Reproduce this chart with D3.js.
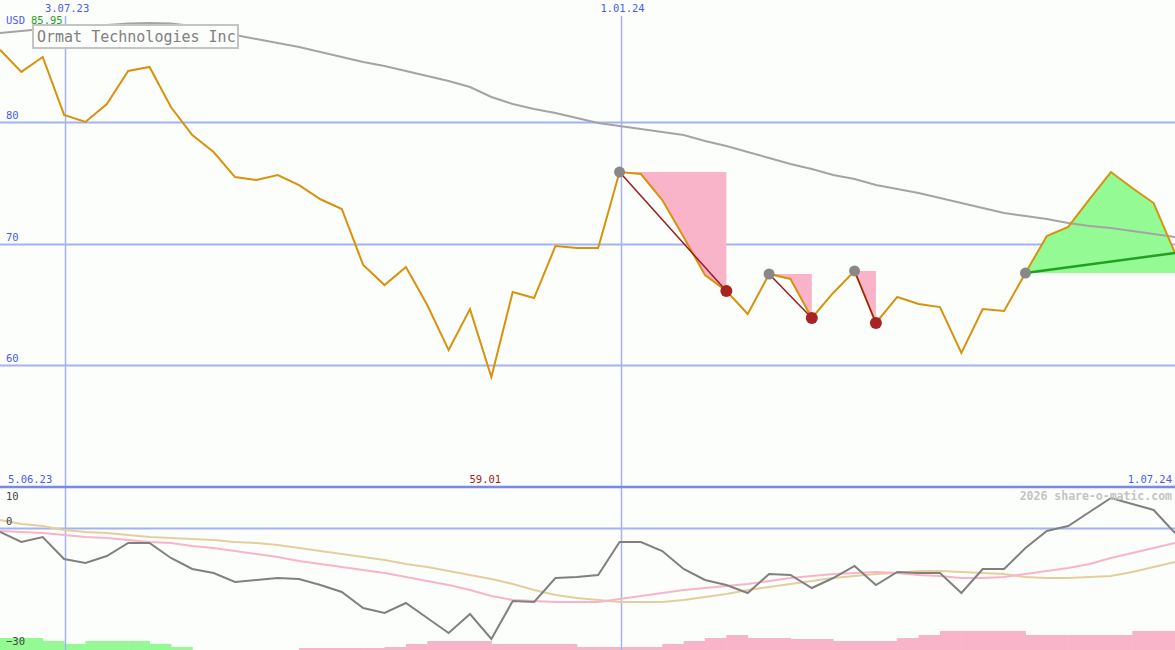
<!DOCTYPE html>
<html><head><meta charset="utf-8">
<script src="https://cdn.jsdelivr.net/npm/d3@7"></script>
<style>html,body{margin:0;padding:0;background:#fcfefc;}svg{display:block;}</style>
</head><body>
<svg id="c" width="1175" height="650"></svg>
<script>
// ---- data ----
const startDate = "2023-06-12";   // first weekly point
const price = [85.95,84.12,85.35,80.58,80.0,81.48,84.2,84.53,81.23,78.93,77.53,75.47,75.23,75.64,74.81,73.64,72.84,68.23,66.58,68.07,64.94,61.23,64.6,59.01,66.0,65.51,69.79,69.63,69.63,75.88,75.72,73.58,70.53,67.41,66.09,64.2,67.49,67.08,63.87,65.93,67.74,63.46,65.6,65.02,64.77,60.99,64.6,64.44,67.57,70.62,71.36,73.66,75.88,74.57,73.33,69.22];
const maLong = [87.33,87.49,87.65,87.82,87.9,87.98,88.11,88.15,88.11,87.9,87.57,87.16,86.83,86.5,86.17,85.76,85.35,84.94,84.61,84.2,83.79,83.37,82.88,82.06,81.48,81.07,80.74,80.33,79.92,79.67,79.42,79.18,78.93,78.44,78.02,77.53,77.04,76.54,76.13,75.64,75.31,74.81,74.49,74.16,73.74,73.33,72.92,72.51,72.26,72.02,71.69,71.44,71.28,71.03,70.78,70.53];
const osc = [-1,-3.5,-2.25,-7.75,-8.75,-7,-3.75,-3.75,-7.5,-10.25,-11.25,-13.5,-13,-12.5,-12.75,-14.25,-16,-20,-21.25,-18.75,-22.5,-26.25,-21.5,-27.75,-18.25,-18.5,-12.5,-12.25,-11.75,-3.5,-3.5,-5.75,-10.25,-13,-14.25,-16.25,-11.5,-11.75,-15,-12.5,-9.5,-14.25,-11,-11.25,-11.25,-16.25,-10.25,-10.25,-5,-0.75,0.5,4,7.5,6,4.5,-1.25];
const oscPink = [-0.75,-1,-1.25,-1.75,-2.25,-2.5,-3,-3.5,-3.75,-4.5,-5,-5.75,-6.5,-7.25,-8.25,-9,-9.75,-10.5,-11.25,-12.25,-13.25,-14.25,-15.5,-17,-18,-18.25,-18.5,-18.5,-18.5,-17.75,-17,-16.25,-15.5,-15,-14.5,-14,-13.25,-12.5,-12,-11.5,-11.25,-11,-11.25,-11.75,-12,-12.5,-12.5,-12.25,-11.5,-10.75,-10,-9,-7.5,-6.25,-5,-3.75];
const oscTan = [2,1,0.5,-0.5,-1,-1.25,-1.75,-2.25,-2.5,-2.75,-3,-3.5,-3.75,-4.25,-5,-5.75,-6.5,-7.25,-8,-9,-9.75,-10.75,-11.75,-12.75,-14,-15.5,-16.75,-17.5,-18,-18.5,-18.5,-18.5,-18,-17.25,-16.5,-15.5,-14.75,-14,-13.25,-12.5,-12,-11.5,-11.25,-10.75,-10.75,-11,-11.25,-11.5,-12.25,-12.5,-12.5,-12.25,-12,-11,-9.75,-8.5];
// step bars per weekly interval: positive = green, negative = pink
const bars = [12,12,9,6,9,9,9,6,3,0,0,0,0,0,-2,-2,-2,-2,-3,-6,-9,-9,-9,-6,-6,-6,-6,-3,-3,-3,-3,-6,-9,-12,-15,-12,-12,-11,-11,-9,-9,-9,-12,-15,-19,-19,-19,-19,-15,-15,-15,-15,-15,-19,-19];
const sigStart = [29,36,40,48];
const sigEnd = [34,38,41,55];
const sigType = ["down","down","down","up"];
const priceTicks = [80,70,60];
const oscTickLabels = [10,0,-30];
const dateTicks = ["2023-07-03","2024-01-01"];
const dateTickLabels = ["3.07.23","1.01.24"];
const rangeLabels = ["5.06.23","1.07.24"];
const title = "Ormat Technologies Inc";
const currency = "USD";
const maxLabel = "85.95";
const minLabel = "59.01";
const watermark = "2026 share-o-matic.com";

// ---- scales ----
const W = 1175;
const day = 864e5;
const t0 = new Date(startDate + "T00:00:00Z");
const dates = price.map((_, i) => new Date(t0.getTime() + i * 7 * day));
const x = d3.scaleUtc().domain([dates[0], dates[dates.length - 1]]).range([0, W]);
const y = d3.scaleLinear().domain([50, 90]).range([486.5, 0.5]);
const yo = d3.scaleLinear().domain([10, -30]).range([488, 648]);
const yb = d3.scaleLinear().domain([0, 20]).range([650, 630]);

const svg = d3.select("#c");
const font = "'DejaVu Sans Mono', monospace";
const gridC = "#a4b2f2", labC = "#4a5cf0";

// background
svg.append("rect").attr("width", W).attr("height", 650).attr("fill", "#fcfefc");

// bars
const bw = x(dates[1]) - x(dates[0]);
svg.append("g").selectAll("rect").data(bars).join("rect")
  .attr("x", (d, i) => x(dates[i]))
  .attr("width", (d, i) => x(dates[i + 1]) - x(dates[i]) + 0.5)
  .attr("y", d => yb(Math.abs(d)))
  .attr("height", d => 650 - yb(Math.abs(d)))
  .attr("fill", d => d >= 0 ? "#94fa94" : "#f9b4c9");

// price grid
svg.append("g").selectAll("line").data(priceTicks).join("line")
  .attr("x1", 0).attr("x2", W).attr("y1", d => Math.round(y(d)) + 0.5).attr("y2", d => Math.round(y(d)) + 0.5)
  .attr("stroke", gridC).attr("stroke-width", 2);
svg.append("g").selectAll("text").data(priceTicks).join("text")
  .attr("x", 6).attr("y", d => y(d) - 3).text(d => d)
  .attr("font-family", font).attr("font-size", 10.5).attr("fill", labC);

// osc zero line
svg.append("line").attr("x1", 0).attr("x2", W).attr("y1", Math.round(yo(0)) + 0.5).attr("y2", Math.round(yo(0)) + 0.5)
  .attr("stroke", gridC).attr("stroke-width", 2);

// vertical date lines
svg.append("g").selectAll("line").data(dateTicks).join("line")
  .attr("x1", d => Math.round(x(new Date(d + "T00:00:00Z"))) + 1.5)
  .attr("x2", d => Math.round(x(new Date(d + "T00:00:00Z"))) + 1.5)
  .attr("y1", 16).attr("y2", 650).attr("stroke", gridC).attr("stroke-width", 1.5);
svg.append("g").selectAll("text").data(dateTicks).join("text")
  .attr("x", d => x(new Date(d + "T00:00:00Z")) + 3)
  .attr("y", 12).attr("text-anchor", "middle")
  .text((d, i) => dateTickLabels[i])
  .attr("font-family", font).attr("font-size", 10.5).attr("fill", labC);

// separator
svg.append("line").attr("x1", 0).attr("x2", W).attr("y1", 487).attr("y2", 487)
  .attr("stroke", "#7a88ec").attr("stroke-width", 2.5);

// signal fills
const px = i => x(dates[i]), py = i => y(price[i]);
sigStart.forEach((s, k) => {
  const e = sigEnd[k];
  const pts = d3.range(s, e + 1).map(i => [px(i), py(i)]);
  pts.push([px(e), py(s)]);
  svg.append("path").attr("d", d3.line()(pts) + "Z")
    .attr("fill", sigType[k] === "up" ? "#94fa94" : "#f9b4c9");
});

// long MA
svg.append("path").datum(maLong)
  .attr("d", d3.line().x((d, i) => x(dates[i])).y(d => y(d)))
  .attr("fill", "none").attr("stroke", "#a4a4a4").attr("stroke-width", 2);

// price line
svg.append("path").datum(price)
  .attr("d", d3.line().x((d, i) => x(dates[i])).y(d => y(d)))
  .attr("fill", "none").attr("stroke", "#d8920c").attr("stroke-width", 2);

// signal lines and dots
sigStart.forEach((s, k) => {
  const e = sigEnd[k];
  const up = sigType[k] === "up";
  svg.append("line").attr("x1", px(s)).attr("y1", py(s)).attr("x2", px(e)).attr("y2", py(e))
    .attr("stroke", up ? "#22a022" : "#9a1c1c").attr("stroke-width", up ? 2.5 : 1.5);
  svg.append("circle").attr("cx", px(s)).attr("cy", py(s)).attr("r", 5.5).attr("fill", "#888888");
  if (!up) svg.append("circle").attr("cx", px(e)).attr("cy", py(e)).attr("r", 6).attr("fill", "#a82222");
});

// oscillator lines
const lo = d3.line().x((d, i) => x(dates[i])).y(d => yo(d));
svg.append("path").datum(oscTan).attr("d", lo).attr("fill", "none").attr("stroke", "#e4cf9c").attr("stroke-width", 2);
svg.append("path").datum(oscPink).attr("d", lo).attr("fill", "none").attr("stroke", "#f9b4c9").attr("stroke-width", 2);
svg.append("path").datum(osc).attr("d", lo).attr("fill", "none").attr("stroke", "#808080").attr("stroke-width", 2);

// osc labels
svg.append("g").selectAll("text").data(oscTickLabels).join("text")
  .attr("x", 6).attr("y", d => d === 10 ? yo(d) + 12 : yo(d) - 3).text(d => d === -30 ? "\u221230" : d)
  .attr("font-family", font).attr("font-size", 10.5).attr("fill", "#444");

// range labels
svg.append("text").attr("x", 8).attr("y", 483).text(rangeLabels[0])
  .attr("font-family", font).attr("font-size", 10.5).attr("fill", labC);
svg.append("text").attr("x", 1172).attr("y", 483).attr("text-anchor", "end").text(rangeLabels[1])
  .attr("font-family", font).attr("font-size", 10.5).attr("fill", labC);
const iMin = price.indexOf(d3.min(price));
svg.append("text").attr("x", px(iMin) - 6).attr("y", 483).attr("text-anchor", "middle").text(minLabel)
  .attr("font-family", font).attr("font-size", 10.5).attr("fill", "#a02020");

// watermark
svg.append("text").attr("x", 1172).attr("y", 500).attr("text-anchor", "end").text(watermark)
  .attr("font-family", font).attr("font-size", 11.5).attr("font-weight", "bold").attr("fill", "#c4c4c4");

// currency + max
svg.append("text").attr("x", 6).attr("y", 24).text(currency)
  .attr("font-family", font).attr("font-size", 10.5).attr("fill", labC);
svg.append("text").attr("x", 31).attr("y", 24).text(maxLabel)
  .attr("font-family", font).attr("font-size", 10.5).attr("fill", "#22a022");

// title box
svg.append("rect").attr("x", 33).attr("y", 25).attr("width", 205).attr("height", 23)
  .attr("fill", "#fcfefc").attr("stroke", "#c4c4c4").attr("stroke-width", 2);
svg.append("text").attr("x", 37).attr("y", 42).text(title)
  .attr("font-family", font).attr("font-size", 15).attr("fill", "#808080");
</script>
</body></html>
